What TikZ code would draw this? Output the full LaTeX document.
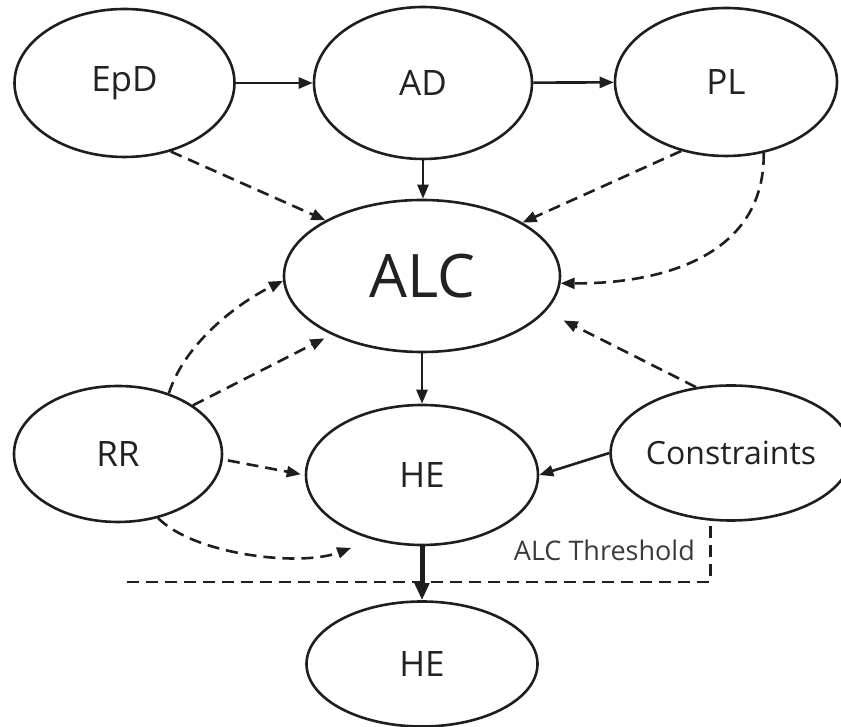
\documentclass[tikz,border=0pt]{standalone}
\usepackage{fontspec}
\setmainfont{Open Sans}
\usetikzlibrary{shapes.geometric,arrows.meta}
\definecolor{ink}{HTML}{1E1E1E}
\definecolor{txt}{HTML}{222222}
\definecolor{lbl}{HTML}{3A3A3A}
\begin{document}
\begin{tikzpicture}[x=1pt,y=1pt,
  ell/.style={ellipse, draw=ink, line width=2.6pt, inner sep=0pt, text=txt,
              font=\fontsize{35}{40}\selectfont},
  arr/.style={draw=ink, line width=2.6pt, -{Triangle[length=14pt,width=11pt]}},
  dsh/.style={arr, dash pattern=on 12pt off 7pt},
]
\useasboundingbox (0,0) rectangle (841,727);
% nodes
\node[ell, minimum width=220pt, minimum height=148pt] (EpD) at (124.5,644) {EpD};
\node[ell, minimum width=218pt, minimum height=152pt] (AD) at (423,644) {AD};
\node[ell, minimum width=222pt, minimum height=148pt] (PL) at (726,645) {PL};
\node[ell, minimum width=276pt, minimum height=152pt,
      font=\fontsize{60}{64}\selectfont] (ALC) at (422,451) {ALC};
\node[ell, minimum width=232pt, minimum height=140pt] (HE) at (422,252) {HE};
\node[ell, minimum width=231pt, minimum height=125pt] (HE2) at (422,63) {HE};
\node[ell, minimum width=208pt, minimum height=136pt] (RR) at (118,273) {RR};
\node[ell, minimum width=218pt, minimum height=135pt,
      font=\fontsize{32}{36}\selectfont] (Con) at (731,274) {Constraints};
\node[text=lbl, font=\fontsize{27}{30}\selectfont, inner sep=0pt, anchor=east]
      (thr) at (695,177) {ALC Threshold};
\coordinate (thrL) at (127,145);
% solid arrows
\draw[arr] (EpD) -- (AD);
\draw[arr] (AD) -- (PL);
\draw[arr] (AD.south) -- (AD.south |- ALC.north);
\draw[arr] (ALC.south) -- (HE.north);
\draw[arr] (Con.west) -- (HE.east);
\draw[draw=ink, line width=5pt, -{Triangle[length=17pt,width=14pt]}]
      (HE.south) -- (HE2.north);
% dashed arrows
\draw[dsh] (EpD.-56) -- (ALC.150);
\draw[dsh] (PL.-123) -- (ALC.28);
\draw[dsh] (PL.-62) .. controls (765,470) and (660,443) .. (ALC.-3);
\draw[dsh, shorten >=20pt] (Con.118) -- (ALC.-16);
\draw[dsh] (RR.50) .. controls (185,385) and (240,425) .. (ALC.182);
\draw[dsh, shorten >=8pt] (RR.33) -- (ALC.213);
\draw[dsh, shorten <=5pt, shorten >=4pt] (RR.-3) -- (HE.180);
\draw[dsh] (RR.-58) .. controls (195,172) and (300,160) .. ([xshift=-10pt,yshift=-12pt]HE.-135);
% threshold line
\draw[draw=ink, line width=2.6pt, dash pattern=on 12pt off 7pt]
      (thrL) -| (Con.-107);
\end{tikzpicture}
\end{document}
